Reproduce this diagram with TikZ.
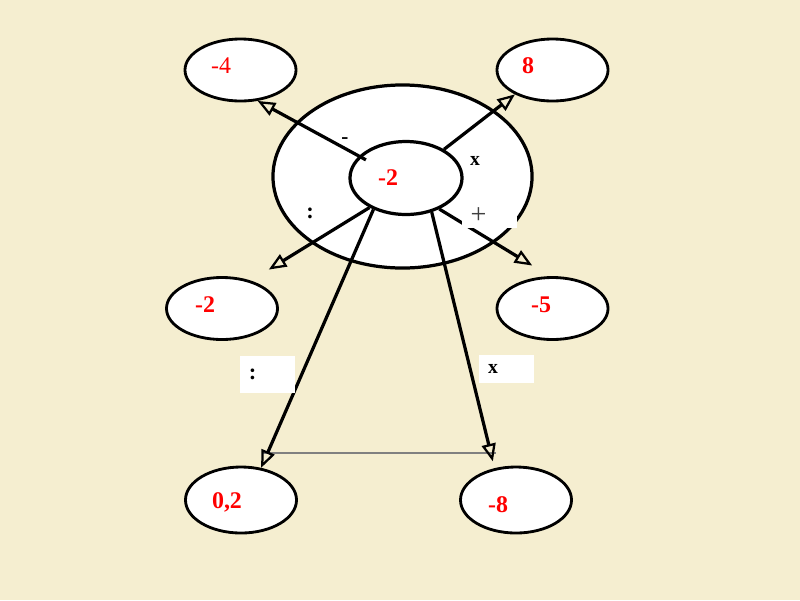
\documentclass[tikz,border=0pt]{standalone}
\usepackage{fontspec}
\setmainfont{Liberation Serif}
\usetikzlibrary{arrows.meta, shapes.geometric}
\definecolor{parchment}{RGB}{245,238,208}

\begin{document}
\begin{tikzpicture}[
  x=0.025cm, y=-0.025cm,
  >={Triangle[open, length=12.5pt, width=10pt, line width=1.6pt]},
  ringnode/.style={draw, ellipse, line width=2.3pt, fill=white, inner sep=0pt},
  valnode/.style={draw, ellipse, line width=2pt, fill=white, inner sep=0pt,
                  minimum width=2.775cm, minimum height=1.55cm},
  numlbl/.style={text=red, font=\fontsize{17}{19}\selectfont\bfseries, inner sep=0pt},
  oplbl/.style={font=\fontsize{14}{16}\selectfont\bfseries, inner sep=0pt},
  opbox/.style={fill=white, inner xsep=0.225cm, inner ysep=0pt, text width=0.925cm,
                align=left, font=\fontsize{14}{16}\selectfont\bfseries},
  link/.style={->, line width=2.3pt}
]

\fill[parchment] (0,0) rectangle (800,600);

% centre rings
\node[ringnode, minimum width=6.475cm, minimum height=4.575cm] (ring) at (402.5,176.5) {};
\node[ringnode, minimum width=2.8cm, minimum height=1.825cm] (c0) at (406,178) {};
\node[numlbl] (t0) at (388,178) {-2};

% value ellipses
\node[valnode] (v1) at (240.5,70) {};
\node[valnode] (v2) at (552.5,70) {};
\node[valnode] (v3) at (222,308.5) {};
\node[valnode] (v4) at (552.5,308.5) {};
\node[valnode, minimum height=1.65cm] (v5) at (241,500) {};
\node[valnode, minimum height=1.65cm] (v6) at (516,500) {};

\node[numlbl, font=\fontsize{17}{19}\selectfont] (t1) at (221,66) {-4};
\node[numlbl] (t2) at (528,66) {8};
\node[numlbl] (t3) at (205,305) {-2};
\node[numlbl] (t4) at (541,305) {-5};
\node[numlbl] (t5) at (227,502) {0,2};
\node[numlbl] (t6) at (498,505) {-8};

% base line
\coordinate (gl) at (262,453);
\coordinate (gr) at (496,453);
\draw[gray, line width=0.8pt] (gl) -- (gr);

% arrows
\draw[link, shorten <=-0.2cm] (c0.155) -- (v1.299);
\draw[link] (c0.37) -- (v2.213);
\draw[link, shorten >=0.525cm] (c0.219) -- (v3.44);
\draw[link, shorten >=0.51cm] (c0.317) -- (v4.95);
\draw[link] (c0.224) -- (v5.58);
\draw[link, shorten >=0.175cm] (c0.307) -- (v6.124);

% operation labels
\node[oplbl, font=\fontsize{15}{17}\selectfont\bfseries] (l1) at (345,141) {-};
\node[oplbl] (l2) at (475,161) {x};
\node[oplbl, font=\fontsize{16}{18}\selectfont\bfseries] (l3) at (310,213) {:};
\node[opbox, minimum height=0.925cm, font=\fontsize{16}{18}\selectfont\bfseries] (l4) at (267.5,374) {:};
\node[opbox, minimum height=0.7cm] (l5) at (506.5,369) {x};
\node[opbox, minimum height=0.625cm, font=\fontsize{20}{22}\selectfont, text=black!75] (l6) at (489,215.5) {+};

\end{tikzpicture}
\end{document}
